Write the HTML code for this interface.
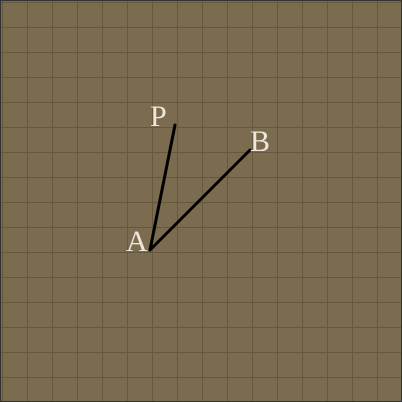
<!DOCTYPE html>
<html><head><style>
html,body{margin:0;padding:0;background:#7b6b4f;}
svg{display:block;}
</style></head><body>
<svg width="402" height="402" viewBox="0 0 402 402">
<rect x="0" y="0" width="402" height="402" fill="#7b6b4f"/>
<g id="grid" stroke="#65583f" stroke-width="1"></g>
<rect x="0.5" y="0.5" width="401" height="401" fill="none" stroke="#333"/>
<g id="segs" stroke="#000" stroke-width="3" stroke-linecap="round"></g>
<g id="labels" font-family="Liberation Serif, serif" font-size="30" fill="#eee6da"></g>
</svg>
<script>
const pointNames=["A","P","B"];
const pointX=[6,7,10];
const pointY=[10,5,6];
const segments=[["A","P"],["A","B"]];
const labelDX=[-24,-25,0];
const labelDY=[1,1,1];
const cell=25, off=0;
function sx(v){return off+v*cell;}
function sy(v){return off+v*cell;}
const ns="http://www.w3.org/2000/svg";
const g=document.getElementById('grid');
for(let i=0;i<=16;i++){
  const p=2.5+i*cell;
  const v=document.createElementNS(ns,'line');
  v.setAttribute('x1',p);v.setAttribute('x2',p);v.setAttribute('y1',0);v.setAttribute('y2',402);
  
  
  g.appendChild(v);
  const h=document.createElementNS(ns,'line');
  h.setAttribute('y1',p);h.setAttribute('y2',p);h.setAttribute('x1',0);h.setAttribute('x2',402);
  
  
  g.appendChild(h);
}
const idx=n=>pointNames.indexOf(n);
const sg=document.getElementById('segs');
segments.forEach(s=>{
  const a=idx(s[0]),b=idx(s[1]);
  const l=document.createElementNS(ns,'line');
  l.setAttribute('x1',sx(pointX[a]));l.setAttribute('y1',sy(pointY[a]));
  l.setAttribute('x2',sx(pointX[b]));l.setAttribute('y2',sy(pointY[b]));
  
  
  sg.appendChild(l);
});
const lg=document.getElementById('labels');
pointNames.forEach((n,i)=>{
  const t=document.createElementNS(ns,'text');
  t.setAttribute('x',sx(pointX[i])+labelDX[i]);
  t.setAttribute('y',sy(pointY[i])+labelDY[i]);
  t.textContent=n;
  
  
  lg.appendChild(t);
});
</script>
</body></html>
